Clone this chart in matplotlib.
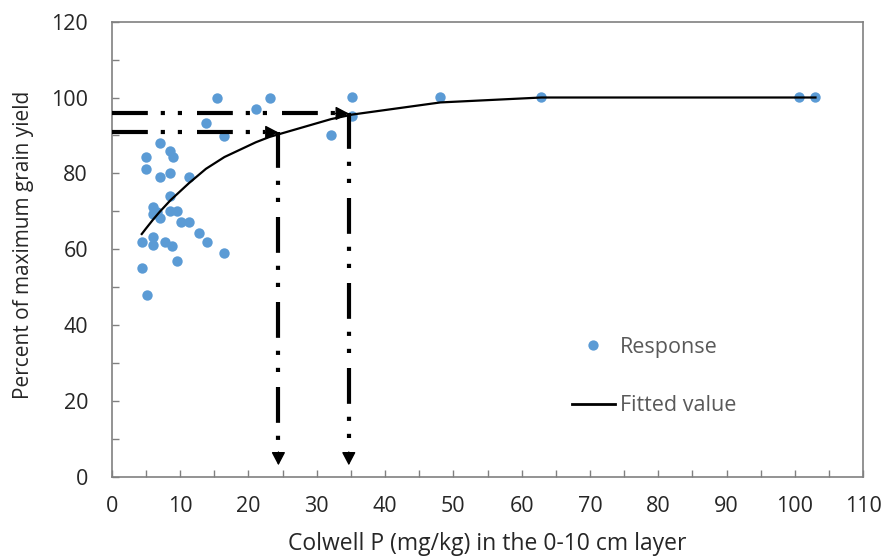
import matplotlib
matplotlib.use("Agg")
import matplotlib.pyplot as plt
from matplotlib.lines import Line2D
from matplotlib.ticker import MultipleLocator

plt.rcParams['font.family'] = ['Open Sans', 'DejaVu Sans']

# Observed responses (Colwell P, % of max yield)
resp_x = [15.4, 23.1, 21.1, 13.8, 16.5, 7.0, 8.6, 9.0, 5.0, 5.0, 7.0, 8.6, 11.3, 8.6,
          6.1, 6.7, 6.1, 7.1, 8.6, 9.5, 10.2, 11.3, 4.4, 6.1, 6.1, 7.8, 8.8, 12.8,
          13.9, 16.5, 9.5, 4.4, 5.2, 32.1, 35.2, 35.2, 48.1, 62.9, 100.6, 103.0]
resp_y = [100, 100, 96.9, 93.4, 89.9, 88.1, 86.0, 84.3, 84.3, 81.1, 79.0, 80.2, 79.0, 74.1,
          71.2, 69.9, 69.3, 68.2, 70.1, 70.1, 67.1, 67.1, 62.0, 63.3, 61.1, 62.0, 60.9, 64.2,
          62.0, 59.1, 56.9, 55.1, 47.9, 90.1, 100.2, 95.1, 100.2, 100.2, 100.2, 100.2]

# Fitted values
fit_x = [4.4, 5.0, 6.1, 7.0, 8.6, 9.5, 11.3, 13.8, 16.5, 21.1, 23.1, 32.1, 35.2, 48.1, 62.9, 100.6, 103.0]
fit_y = [64.0, 65.4, 67.9, 69.8, 72.9, 74.4, 77.4, 81.2, 84.3, 88.2, 89.6, 94.3, 95.5, 98.7, 100.0, 100.0, 100.0]

# Critical values indicated by arrows
crit_x = [24.4, 34.7]
crit_y = [90.8, 95.8]

fig = plt.figure(figsize=(8.85, 5.6), dpi=100)
ax = fig.add_axes([0.1262, 0.1488, 0.9755 - 0.1262, 0.9613 - 0.1488])

blue = '#5B9BD5'
ax.scatter(resp_x, resp_y, s=56, color=blue, zorder=3, linewidths=0)
ax.plot(fit_x, fit_y, color='black', lw=1.6, zorder=4)

dash = (0, (8.6, 3.1, 1, 3.1, 1, 3.6))
head = dict(arrowstyle='-|>,head_length=0.8,head_width=0.42', color='black', lw=1,
            shrinkA=0, shrinkB=0)
for cx, cy in zip(crit_x, crit_y):
    # horizontal arrow from the y-axis to the curve
    ax.plot([0, cx - 2.0], [cy, cy], color='black', lw=3, linestyle=dash,
            dash_capstyle='butt', zorder=5, clip_on=False)
    ax.annotate('', xy=(cx, cy), xytext=(cx - 2.0, cy), arrowprops=head, zorder=6)
    # vertical arrow from the curve down to the x-axis
    ax.plot([cx, cx], [cy, 6.5], color='black', lw=3, linestyle=dash,
            dash_capstyle='butt', zorder=5)
    ax.annotate('', xy=(cx, 3.0), xytext=(cx, 6.5), arrowprops=head, zorder=6)

ax.set_xlim(0, 110)
ax.set_ylim(0, 120)
ax.xaxis.set_major_locator(MultipleLocator(10))
ax.xaxis.set_minor_locator(MultipleLocator(5))
ax.yaxis.set_major_locator(MultipleLocator(20))
ax.yaxis.set_minor_locator(MultipleLocator(10))
ax.tick_params(which='both', direction='in', length=5, width=1, color='#808080',
               top=False, right=False)
ax.tick_params(axis='x', which='major', labelsize=15.5, labelcolor='#262626', pad=14)
ax.tick_params(axis='y', which='major', labelsize=15.5, labelcolor='#262626', pad=17)
for s in ax.spines.values():
    s.set_color('#808080')
    s.set_linewidth(1.2)

ax.set_xlabel('Colwell P (mg/kg) in the 0-10 cm layer', fontsize=16.5, color='#262626')
ax.set_ylabel('Percent of maximum grain yield', fontsize=15, color='#262626')
ax.xaxis.set_label_coords(0.499, -0.122)
ax.yaxis.set_label_coords(-0.104, 0.51)

h1 = Line2D([], [], linestyle='none', marker='o', markersize=7.4, color=blue, markeredgewidth=0)
h2 = Line2D([], [], color='black', lw=2)
fig.legend([h1, h2], ['Response', 'Fitted value'], loc='center',
           bbox_to_anchor=(654 / 885, 1 - 376.5 / 560), bbox_transform=fig.transFigure,
           frameon=False, fontsize=15.5, handlelength=2.0, handletextpad=0.25,
           labelspacing=1.75, labelcolor='#595959')

fig.savefig('out.png', dpi=100)
